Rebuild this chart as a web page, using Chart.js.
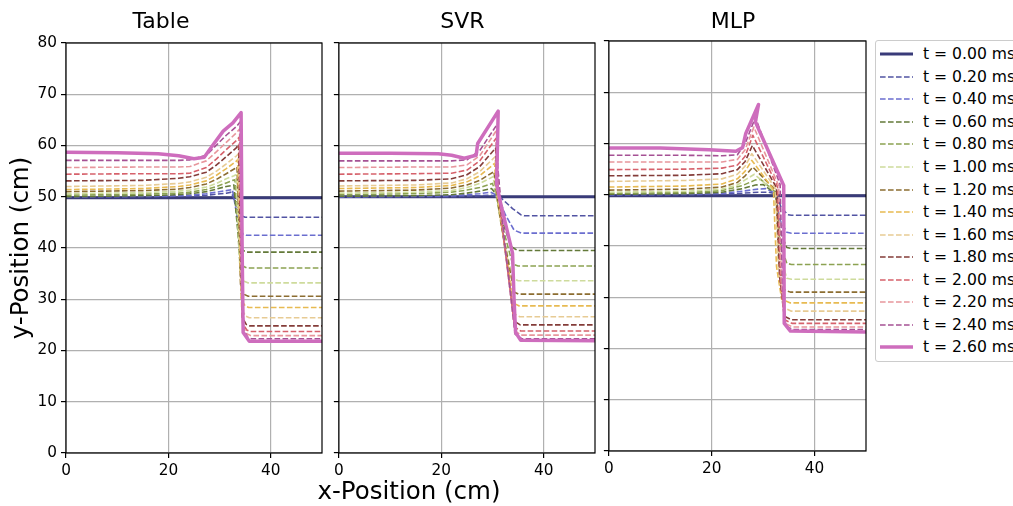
<!DOCTYPE html>
<html>
<head>
<meta charset="utf-8">
<script src="https://cdn.jsdelivr.net/npm/chart.js@4.4.1/dist/chart.umd.min.js"></script>
<style>
  body { margin:0; width:1013px; height:506px; overflow:hidden; background:#fff; position:relative; font-family:'DejaVu Sans', sans-serif; }
  .panel { position:absolute; top:0; height:506px; }
  #xlabel { position:absolute; left:0; width:818px; top:476px; line-height:30px; text-align:center; font-size:24.5px; color:#000; }
  #legend { position:absolute; left:875px; top:40px; width:160px; height:316px; padding:2px 0; border:1px solid #cccccc; border-radius:3px; background:#fff; }
  .lg-row { height:22.56px; display:flex; align-items:center; font-size:15.6px; color:#000; white-space:nowrap; }
  .lg-row svg { margin-left:4px; margin-right:10px; flex-shrink:0; }
</style>
</head>
<body>
<div class="panel" style="left:0;width:330px"><canvas id="chart-table"></canvas></div>
<div class="panel" style="left:330px;width:270px"><canvas id="chart-svr"></canvas></div>
<div class="panel" style="left:600px;width:270px"><canvas id="chart-mlp"></canvas></div>
<div id="xlabel">x-Position (cm)</div>
<div id="legend"></div>

<script>
// snapshot times of the profiles
const timeLabels = ['0.00','0.20','0.40','0.60','0.80','1.00','1.20','1.40','1.60','1.80','2.00','2.20','2.40','2.60'];
const panelTitles = ['Table', 'SVR', 'MLP'];

// y-position profiles, [x (cm), y (cm)] per snapshot
const tableCurves = [
  [[0,49.8],[50,49.8]],
  [[0,50.0],[15,50.0],[22,50.1],[24.2,50.1],[27.4,50.3],[29.4,50.5],[31.3,50.7],[32.3,50.9],[33.0,49.0],[33.6,47.0],[34.5,46.2],[35.0,46.0],[50,46.0]],
  [[0,50.0],[15,50.1],[22,50.2],[24.2,50.3],[27.4,50.6],[29.4,50.9],[31.3,51.2],[32.5,51.4],[33.1,48.0],[33.8,44.0],[34.6,42.7],[35.2,42.5],[50,42.5]],
  [[0,50.0],[15,50.2],[22,50.4],[24.2,50.6],[27.4,51.0],[29.4,51.5],[31.3,52.0],[32.4,52.2],[32.8,52.3],[33.2,47.0],[33.8,41.0],[34.6,39.5],[35.3,39.2],[50,39.2]],
  [[0,50.3],[15,50.5],[22,50.7],[24.2,50.9],[27.4,51.4],[29.4,52.0],[31.3,52.7],[32.6,53.2],[33.0,53.3],[33.4,46.0],[33.9,38.0],[34.7,36.4],[35.4,36.1],[50,36.1]],
  [[0,50.6],[15,50.8],[22,51.1],[24.2,51.3],[27.4,51.9],[29.4,52.6],[31.3,53.5],[32.8,54.1],[33.2,54.3],[33.6,45.0],[34.0,35.0],[34.8,33.5],[35.5,33.2],[50,33.2]],
  [[0,51.0],[15,51.2],[22,51.5],[24.2,51.8],[27.4,52.5],[29.4,53.4],[31.3,54.5],[33.0,55.5],[33.4,55.8],[33.8,44.0],[34.1,32.5],[34.9,30.9],[35.6,30.6],[50,30.6]],
  [[0,51.4],[15,51.6],[22,52.0],[24.2,52.3],[27.4,53.1],[29.4,54.2],[31.3,55.5],[33.1,56.8],[33.5,57.2],[33.9,43.0],[34.2,30.0],[35.0,28.7],[35.7,28.4],[50,28.4]],
  [[0,52.0],[15,52.2],[22,52.6],[24.2,52.9],[27.4,53.8],[29.4,55.0],[31.3,56.4],[33.2,57.9],[33.6,58.3],[34.0,42.0],[34.3,28.0],[35.1,26.7],[35.8,26.4],[50,26.4]],
  [[0,53.1],[15,53.2],[22,53.6],[24.2,53.9],[27.4,54.8],[29.4,56.2],[31.3,57.8],[33.3,59.6],[33.7,60.2],[34.1,41.0],[34.4,26.5],[35.2,25.1],[35.9,24.8],[50,24.8]],
  [[0,54.4],[15,54.5],[22,54.5],[24.2,54.6],[27.4,55.7],[29.4,57.4],[31.3,59.2],[33.3,61.0],[33.8,61.6],[34.2,40.0],[34.5,25.3],[35.3,24.0],[36.0,23.7],[50,23.7]],
  [[0,55.7],[15,55.8],[22,55.8],[24.2,55.9],[27.4,57.0],[29.4,58.8],[31.3,60.6],[33.3,62.5],[33.9,63.2],[34.3,40.0],[34.6,24.5],[35.4,23.2],[36.1,22.9],[50,22.9]],
  [[0,57.1],[15,57.1],[22,57.1],[24.2,57.2],[27.4,58.1],[29.4,60.1],[31.3,62.0],[33.3,63.7],[34.0,64.6],[34.4,40.0],[34.7,23.9],[35.5,22.6],[36.2,22.3],[50,22.3]],
  [[0,58.7],[10,58.6],[18,58.4],[22,58.0],[25,57.4],[27,57.7],[28.7,60.1],[30.7,62.8],[32.6,64.4],[34.2,66.4],[34.4,40.0],[34.6,23.5],[35.8,21.8],[50,21.8]]
];

const svrCurves = [
  [[0,50.0],[50,50.0]],
  [[0,50.0],[15,50.0],[22,50.0],[25,50.1],[27.5,50.2],[29.4,50.3],[31.4,50.0],[33.9,47.7],[35.5,46.5],[36.2,46.3],[50,46.3]],
  [[0,50.0],[15,50.1],[22,50.2],[25,50.4],[27.5,50.6],[29.6,50.9],[31.0,50.2],[32.5,46.5],[34.2,43.5],[35.6,42.9],[50,42.9]],
  [[0,50.1],[15,50.2],[22,50.4],[25,50.7],[27.5,51.1],[29.8,51.6],[30.8,50.4],[31.4,46.8],[33.6,40.3],[34.9,39.5],[50,39.5]],
  [[0,50.4],[15,50.6],[22,50.9],[25,51.3],[27.5,51.8],[30.0,52.6],[30.7,50.5],[31.6,45.5],[33.9,36.9],[35.0,36.5],[50,36.5]],
  [[0,50.7],[15,50.9],[22,51.2],[25,51.8],[27.5,52.6],[30.1,53.9],[30.6,51.0],[31.6,45.0],[33.9,34.1],[35.0,33.6],[50,33.6]],
  [[0,51.1],[15,51.3],[22,51.7],[25,52.3],[27.5,53.2],[30.3,54.9],[30.6,52.0],[31.7,44.5],[34.2,31.4],[35.1,31.0],[50,31.0]],
  [[0,51.6],[15,51.8],[22,52.2],[25,52.9],[27.5,54.1],[30.4,56.5],[30.6,53.0],[31.8,44.0],[34.2,29.2],[35.2,28.7],[50,28.7]],
  [[0,52.1],[15,52.3],[22,52.7],[25,53.5],[27.5,54.9],[30.5,57.8],[30.7,54.0],[31.9,43.5],[34.2,27.2],[35.3,26.6],[50,26.6]],
  [[0,53.1],[15,53.2],[22,53.5],[25,54.3],[27.5,55.9],[30.6,59.5],[30.8,54.5],[32.0,43.0],[34.3,25.7],[35.4,25.0],[50,25.0]],
  [[0,54.4],[15,54.5],[22,54.6],[25,55.2],[27.5,57.0],[30.7,61.4],[30.8,55.0],[32.1,42.5],[34.3,24.6],[35.5,23.8],[50,23.8]],
  [[0,55.7],[15,55.8],[22,55.8],[25,56.2],[27.5,58.0],[30.8,63.0],[30.9,55.5],[32.2,42.0],[34.4,23.8],[35.6,23.0],[50,23.0]],
  [[0,57.0],[15,57.0],[22,57.0],[25,57.2],[27.5,59.0],[31.0,64.3],[31.0,56.0],[32.3,41.5],[34.4,23.2],[35.7,22.3],[50,22.3]],
  [[0,58.5],[10,58.5],[19.4,58.4],[22,58.1],[24.5,57.5],[26.8,58.1],[27.1,60.4],[31.1,66.7],[30.8,52.5],[31.4,49.5],[33.9,39.0],[34.2,30.0],[34.5,23.5],[35.5,22.0],[50,21.9]]
];

const mlpCurves = [
  [[0,49.8],[50,49.8]],
  [[0,50.0],[15,50.0],[22,50.1],[26,50.3],[29,50.5],[31,50.5],[32.5,50.2],[33.5,47.5],[34.8,46.1],[35.5,46.0],[50,46.0]],
  [[0,50.0],[15,50.1],[22,50.3],[26,50.7],[29,51.1],[30.5,51.2],[32.3,50.3],[33.3,45.0],[34.6,42.7],[35.5,42.5],[50,42.5]],
  [[0,50.1],[15,50.2],[22,50.5],[26,51.2],[28.5,51.9],[30,52.0],[32.3,50.3],[33.2,43.0],[34.6,39.7],[35.5,39.5],[50,39.5]],
  [[0,50.3],[15,50.4],[22,50.8],[26,51.8],[28.5,52.9],[29.5,53.0],[32.4,50.5],[33.2,41.0],[34.6,36.6],[35.5,36.4],[50,36.4]],
  [[0,50.5],[15,50.7],[22,51.1],[25,51.9],[26.5,52.9],[28.3,54.0],[32.4,50.5],[33.1,39.0],[34.6,33.7],[35.5,33.5],[50,33.5]],
  [[0,50.9],[15,51.1],[22,51.5],[25,52.4],[26.5,53.7],[28.0,55.4],[32.5,50.8],[33.0,37.0],[34.0,31.5],[35.3,31.0],[50,31.0]],
  [[0,51.5],[15,51.7],[22,52.1],[25,53.1],[26.5,54.6],[27.8,56.7],[32.0,51.0],[32.6,36.0],[33.6,29.6],[35.3,28.9],[50,28.9]],
  [[0,52.6],[15,52.8],[22,53.1],[25,54.0],[26.5,55.6],[27.8,58.0],[32.4,51.2],[33.0,35.0],[34.0,28.0],[35.4,27.3],[50,27.3]],
  [[0,53.7],[15,53.8],[22,54.1],[25,54.9],[26.5,56.5],[27.9,59.6],[32.6,51.4],[33.2,34.0],[34.1,26.3],[35.5,25.6],[50,25.6]],
  [[0,54.9],[15,55.0],[22,55.2],[25,55.8],[26.5,57.5],[28.0,61.6],[32.8,51.6],[33.4,33.0],[34.2,25.6],[35.6,24.9],[50,24.9]],
  [[0,56.4],[15,56.4],[22,56.4],[25,56.9],[26.5,58.8],[28.2,63.2],[33.0,51.8],[33.6,32.0],[34.3,24.9],[35.7,24.2],[50,24.2]],
  [[0,57.7],[15,57.7],[22,57.6],[25,57.8],[26.5,60.0],[28.5,65.1],[33.3,52.0],[33.8,31.0],[34.4,24.4],[35.8,23.7],[50,23.7]],
  [[0,59.1],[10,59.1],[19.5,58.8],[24.7,58.5],[26.0,59.2],[26.6,61.9],[29.1,67.6],[28.5,64.2],[34.0,51.8],[34.1,24.9],[35.3,23.4],[50,23.2]]
];

// tab20b picks, one per snapshot
const lineColors = ['#393b79','#5254a3','#6b6ecf','#637939','#8ca252','#cedb9c','#8c6d31',
                    '#e7ba52','#e7cb94','#843c39','#d6616b','#e7969c','#a55194','#ce6dbd'];
const FONT = 'DejaVu Sans';
const DASH = [5.6, 2.4];

function isSolid(i) { return i === 0 || i === timeLabels.length - 1; }

function buildDatasets(curves) {
  return curves.map((pairs, i) => ({
    label: 't = ' + timeLabels[i] + ' ms',
    data: pairs.map(([x, y]) => ({ x, y })),
    showLine: true,
    borderColor: lineColors[i],
    borderWidth: i === 0 ? 3 : (isSolid(i) ? 3.5 : 1.6),
    borderDash: isSolid(i) ? [] : DASH,
    borderJoinStyle: 'round',
    pointRadius: 0,
    tension: 0,
    fill: false,
    order: curves.length - 1 - i   // later snapshots on top
  }));
}

// black box around the plot area
const framePlugin = {
  id: 'frame',
  afterDraw(chart) {
    const { ctx, chartArea: a } = chart;
    ctx.save();
    ctx.strokeStyle = '#000';
    ctx.lineWidth = 1.2;
    ctx.strokeRect(a.left, a.top, a.right - a.left, a.bottom - a.top);
    ctx.restore();
  }
};

function makePanel(id, curves, title, o) {
  const grid = { color: '#b0b0b0', lineWidth: 1.2, tickColor: '#000', tickLength: 5, tickWidth: 1.2 };
  new Chart(document.getElementById(id), {
    type: 'scatter',
    data: { datasets: buildDatasets(curves) },
    options: {
      responsive: true,
      maintainAspectRatio: false,
      animation: false,
      events: [],
      layout: { padding: { left: 0, right: o.padRight, top: 0, bottom: o.padBottom } },
      plugins: {
        legend: { display: false },
        tooltip: { enabled: false },
        title: {
          display: true, text: title, color: '#000',
          font: { family: FONT, size: 22, weight: 'normal' },
          padding: { top: 8.8, bottom: o.titleBottom }
        }
      },
      scales: {
        x: {
          type: 'linear', min: 0, max: 50,
          ticks: { stepSize: 20, includeBounds: false, color: '#000', padding: 4, maxRotation: 0,
                   font: { family: FONT, size: 15.3 } },
          grid: grid,
          border: { display: false },
          afterFit: s => { s.height = 30; }
        },
        y: {
          type: 'linear', min: 0, max: 80,
          ticks: { stepSize: 10, display: o.yLabels, color: '#000', padding: 4,
                   font: { family: FONT, size: 15.3 } },
          grid: grid,
          border: { display: false },
          title: {
            display: o.yLabels, text: 'y-Position (cm)', color: '#000',
            font: { family: FONT, size: 24.5 }, padding: { top: 7, bottom: 0 }
          },
          afterFit: s => { s.width = o.yWidth; }
        }
      }
    },
    plugins: [framePlugin]
  });
}

makePanel('chart-table', tableCurves, panelTitles[0], { yWidth: 66, padRight: 8, padBottom: 23, titleBottom: 7.8, yLabels: true });
makePanel('chart-svr',   svrCurves,   panelTitles[1], { yWidth: 7,  padRight: 5, padBottom: 23, titleBottom: 7.8, yLabels: false });
makePanel('chart-mlp',   mlpCurves,   panelTitles[2], { yWidth: 8,  padRight: 4, padBottom: 25, titleBottom: 5.8, yLabels: false });

// legend: one row per snapshot
document.getElementById('legend').innerHTML = timeLabels.map((t, i) => {
  const w = i === 0 ? 3 : (isSolid(i) ? 3.5 : 1.6);
  const dash = isSolid(i) ? '' : ` stroke-dasharray="${DASH.join(' ')}"`;
  return `<div class="lg-row"><svg width="33" height="10"><line x1="0" y1="5" x2="33" y2="5" stroke="${lineColors[i]}" stroke-width="${w}"${dash}/></svg>t = ${t} ms</div>`;
}).join('');
</script>
</body>
</html>
